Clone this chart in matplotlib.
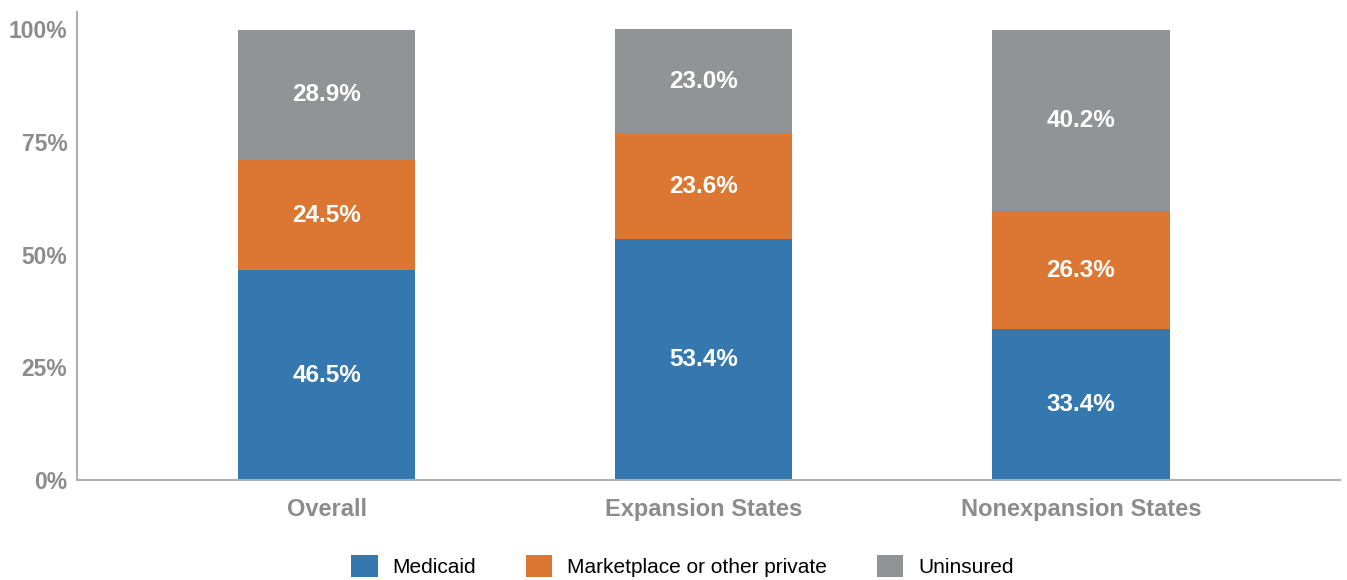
import matplotlib
matplotlib.use("Agg")
import matplotlib.pyplot as plt
import numpy as np
from matplotlib.patches import Patch

plt.rcParams['font.family'] = ['Liberation Sans', 'DejaVu Sans']

categories = ["Overall", "Expansion States", "Nonexpansion States"]
series_names = ["Medicaid", "Marketplace or other private", "Uninsured"]
medicaid = [46.5, 53.4, 33.4]
marketplace = [24.5, 23.6, 26.3]
uninsured = [28.9, 23.0, 40.2]
ytick_vals = [0, 25, 50, 75, 100]
ytick_labels = ["0%", "25%", "50%", "75%", "100%"]

colors = ["#3578b0", "#dc7633", "#929396"]
series = [medicaid, marketplace, uninsured]

fig = plt.figure(figsize=(13.47, 5.8), dpi=100)
ax = fig.add_axes([0.0572, 0.1724, 0.9948 - 0.0572, 0.979 - 0.1724])

x = np.arange(len(categories))
bottom = np.zeros(len(categories))
for vals, col in zip(series, colors):
    vals = np.array(vals)
    ax.bar(x, vals, width=0.47, bottom=bottom, color=col, linewidth=0)
    for xi, b, v in zip(x, bottom, vals):
        ax.text(xi, b + v / 2, f"{v:.1f}%", ha="center", va="center",
                color="white", fontsize=17.5, fontweight="bold")
    bottom += vals

ax.set_xlim(-0.662, 2.687)
ax.set_ylim(0, 103.8)
ax.set_yticks(ytick_vals)
ax.set_yticklabels(ytick_labels)
ax.set_xticks(x)
ax.set_xticklabels(categories)
for s in ["top", "right"]:
    ax.spines[s].set_visible(False)
for s in ["left", "bottom"]:
    ax.spines[s].set_color("#b0b0b0")
    ax.spines[s].set_linewidth(1.5)
ax.tick_params(axis="both", length=0, colors="#8c8c8c")
ax.tick_params(axis="y", pad=7, labelsize=16.5)
ax.tick_params(axis="x", pad=13, labelsize=17)
for lbl in ax.get_xticklabels() + ax.get_yticklabels():
    lbl.set_fontweight("bold")
    lbl.set_color("#8c8c8c")

handles = [Patch(facecolor=c, edgecolor="none") for c in colors]
fig.legend(handles, series_names, loc="center", bbox_to_anchor=(0.5067, 1 - 566 / 580),
           ncol=3, frameon=False, fontsize=15, handlelength=1.25, handleheight=1.3,
           handletextpad=0.72, columnspacing=2.4)

fig.savefig("out.png", dpi=100)
